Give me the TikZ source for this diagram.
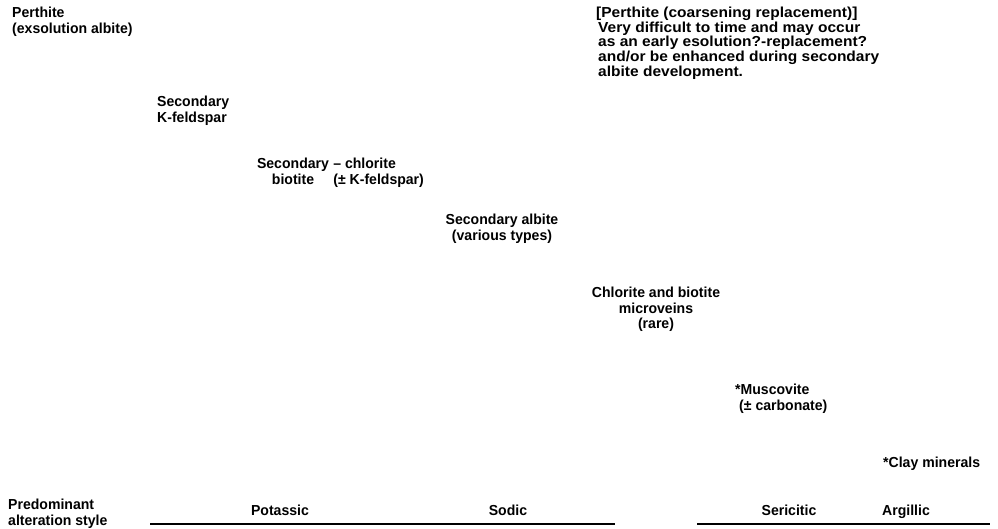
\documentclass[tikz,border=0pt]{standalone}
\usepackage{fontspec}
\setmainfont{Liberation Sans}[FakeStretch=0.97]
\newfontfamily\notefont{Liberation Sans}[FakeStretch=1.07]
\usepackage{tikz}
\usetikzlibrary{positioning}

\begin{document}
\begin{tikzpicture}[x=1pt,y=-1pt,
		txt/.style={inner sep=0pt,font=\fontsize{14.5}{15.5}\selectfont\bfseries},
		lhs/.style={txt,align=left,anchor=north west},
		mid/.style={txt,align=center,anchor=north}]
		\useasboundingbox (0,0) rectangle (998,529);
		% minerals, oldest at top left
		\node[lhs] (perth) at (12,7) {Perthite\\(exsolution albite)};
		\node[lhs] (kfel) at (157,96) {Secondary\\K-feldspar};
		\node[mid] (bio) at (293,158) {Secondary\\biotite};
		\node[lhs,right=4pt of bio.north east,anchor=north west] (chl) {-- chlorite\\(± K-feldspar)};
		\node[mid] (alb) at (502,214) {Secondary albite\\(various types)};
		\node[mid] (vein) at (656,287) {Chlorite and biotite\\microveins\\(rare)};
		\node[lhs] (musc) at (735,384) {*Muscovite\\\hspace{4pt}(± carbonate)};
		\node[lhs] (clay) at (883,457) {*Clay minerals};
		% note on coarsening perthite
		\node[lhs,font=\notefont\fontsize{14.5}{14.6}\selectfont\bfseries] (note) at (596,7)
			{[Perthite (coarsening replacement)]\\
			\hspace{2pt}Very difficult to time and may occur\\
			\hspace{2pt}as an early esolution?-replacement?\\
			\hspace{2pt}and/or be enhanced during secondary\\
			\hspace{2pt}albite development.};
		% alteration styles
		\node[lhs] (style) at (8,499) {Predominant\\alteration style};
		\coordinate (a0) at (150,524);
		\coordinate (a1) at (615,524);
		\coordinate (b0) at (697,524);
		\coordinate (b1) at (990,524);
		\draw[line width=2pt] (a0) -- (a1);
		\draw[line width=2pt] (b0) -- (b1);
		\node[txt,anchor=base] (pot) at (280,515) {Potassic};
		\node[txt,anchor=base] (sod) at (508,515) {Sodic};
		\node[txt,anchor=base] (ser) at (789,515) {Sericitic};
		\node[txt,anchor=base] (arg) at (906,515) {Argillic};
	\end{tikzpicture}
\end{document}
